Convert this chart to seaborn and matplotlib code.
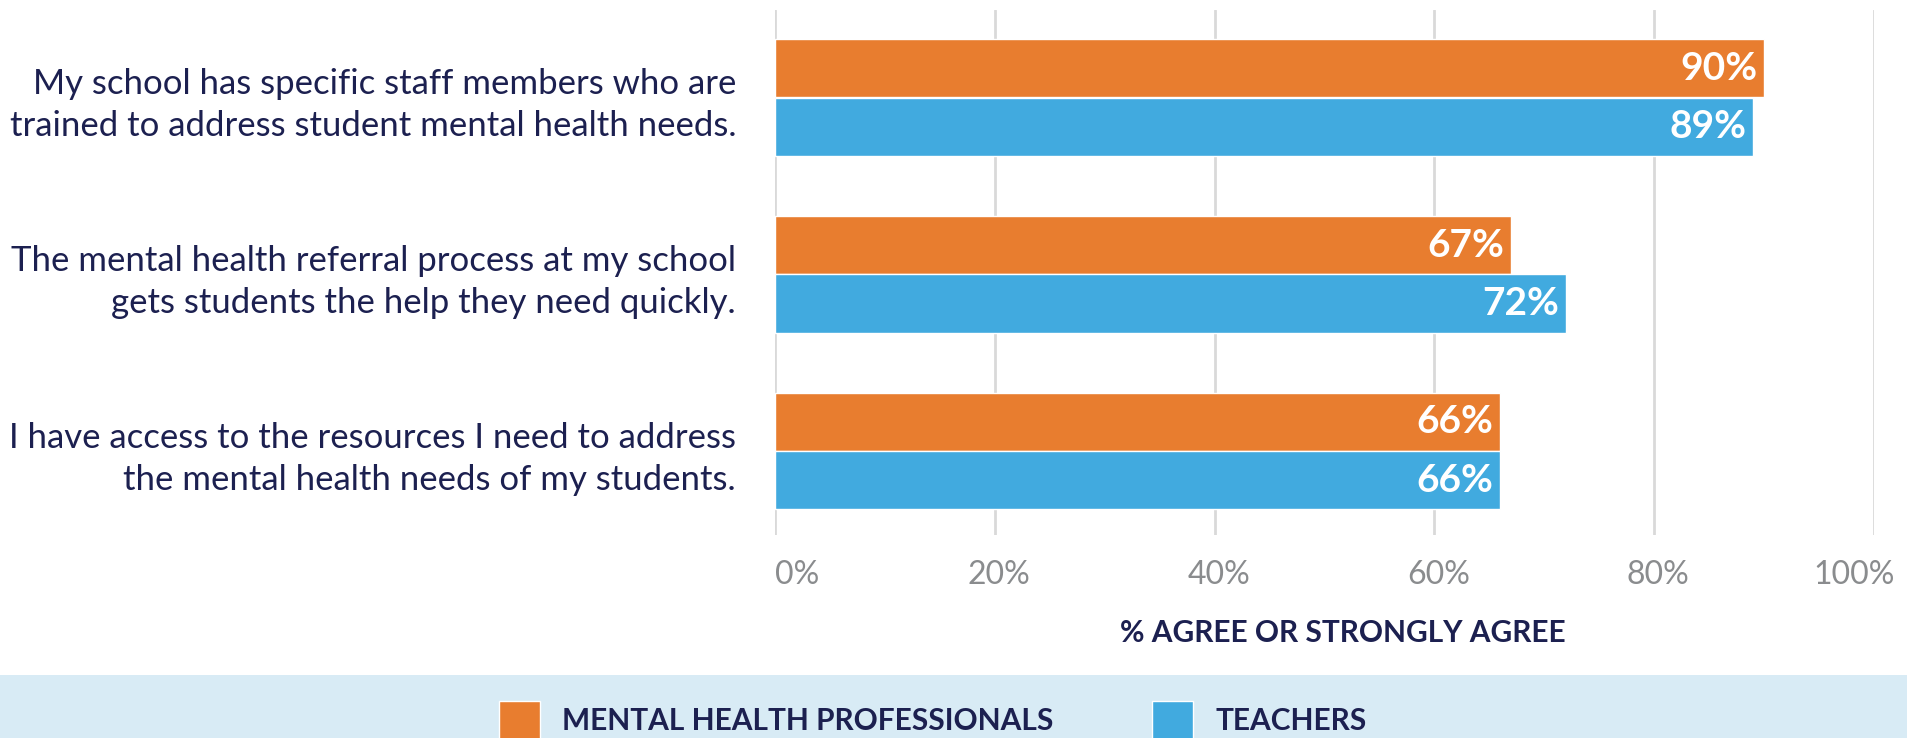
import matplotlib
matplotlib.use("Agg")
import matplotlib.pyplot as plt
from matplotlib.patches import Rectangle
import matplotlib.transforms as mtransforms
import seaborn as sns
import pandas as pd

statements = [
    "My school has specific staff members who are\ntrained to address student mental health needs.",
    "The mental health referral process at my school\ngets students the help they need quickly.",
    "I have access to the resources I need to address\nthe mental health needs of my students.",
]
groups = ["MENTAL HEALTH PROFESSIONALS", "TEACHERS"]
mhp_values = [90, 67, 66]
teacher_values = [89, 72, 66]
tick_values = [0, 20, 40, 60, 80, 100]
tick_labels = ["0%", "20%", "40%", "60%", "80%", "100%"]
x_label = "% AGREE OR STRONGLY AGREE"

ORANGE = "#E87D2F"
BLUE = "#41AADF"
NAVY = "#1C2050"
GRID = "#D9D9D9"
BAND = "#D8EBF5"
TICK = "#8A8C8E"

df = pd.DataFrame({
    "statement": statements * 2,
    "group": [groups[0]] * 3 + [groups[1]] * 3,
    "value": mhp_values + teacher_values,
})

sns.set_theme(style="white")
plt.rcParams["font.family"] = ["Lato", "DejaVu Sans"]

W, H = 1908, 738
fig = plt.figure(figsize=(W / 100, H / 100), dpi=100)
ax = fig.add_axes([775 / W, 1 - 535 / H, 1099 / W, 525 / H])

sns.barplot(data=df, y="statement", x="value", hue="group", orient="h",
            palette={groups[0]: ORANGE, groups[1]: BLUE}, width=0.66,
            saturation=1, ax=ax, zorder=3)

ax.set_xlim(0, 100)
ax.set_ylim(2.475, -0.495)
ax.set_xticks(tick_values)
ax.set_xticklabels(tick_labels, fontsize=23, color=TICK)
ax.tick_params(axis="x", length=0, pad=18)
xt = ax.get_xticklabels()
xt[0].set_ha("left")
for lab in xt[1:-1]:
    lab.set_transform(lab.get_transform() + mtransforms.ScaledTranslation(4 / 100, 0, fig.dpi_scale_trans))
xt[-1].set_transform(xt[-1].get_transform() + mtransforms.ScaledTranslation(-20 / 100, 0, fig.dpi_scale_trans))

ax.tick_params(axis="y", length=0, pad=28, labelsize=25, labelcolor=NAVY)
for lab in ax.get_yticklabels():
    lab.set_linespacing(1.38)
ax.set_ylabel("")
ax.set_xlabel(x_label, fontsize=21.5, fontweight="bold", color=NAVY)
ax.xaxis.set_label_coords((1343 - 775) / 1099, -98 / 525)
ax.xaxis.label.set_va("center")
ax.xaxis.grid(True, color=GRID, linewidth=2)
ax.yaxis.grid(False)
ax.set_axisbelow(True)
for s in ax.spines.values():
    s.set_visible(False)

for cont in ax.containers:
    anns = ax.bar_label(cont, labels=[f"{v:.0f}%" for v in cont.datavalues],
                        padding=-5, color="white", fontsize=28, fontweight="bold")
    for a in anns:
        a.set_ha("right")

handles, labels = ax.get_legend_handles_labels()
ax.get_legend().remove()

fig.add_artist(Rectangle((0, 0), 1, 63 / H, transform=fig.transFigure,
                         facecolor=BAND, edgecolor="none", zorder=0))
fs = 21.5
fig.legend(handles, labels, loc="center left", bbox_to_anchor=(499 / W, 18 / H),
           ncol=2, frameon=False, prop={"weight": "bold", "size": fs},
           labelcolor=NAVY, handlelength=41 / (fs * 1.389),
           handleheight=46 / (fs * 1.389), handletextpad=0.75, columnspacing=3.3,
           borderpad=0, borderaxespad=0)

fig.savefig("out.png", dpi=100)
